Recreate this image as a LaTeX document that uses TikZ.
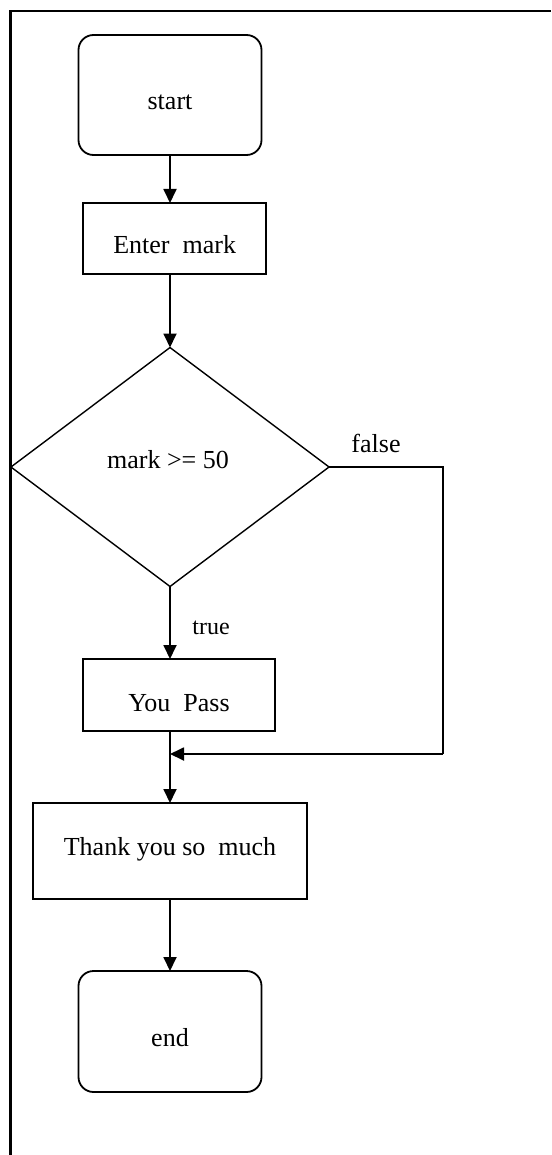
\documentclass[tikz,border=0pt]{standalone}
\usepackage{fontspec}
\setmainfont{Liberation Serif}
\usetikzlibrary{arrows.meta,shapes.geometric}
\begin{document}
\begin{tikzpicture}[x=1pt,y=-1pt,
  box/.style={draw,line width=1.8pt,inner sep=0pt,outer sep=0pt},
  term/.style={box,rounded corners=15pt},
  txt/.style={anchor=base,inner sep=0pt,font=\fontsize{26}{30}\selectfont},
  stxt/.style={anchor=base,inner sep=0pt,font=\fontsize{24}{28}\selectfont},
  flow/.style={line width=1.8pt,-{Triangle[length=14pt,width=13pt]}},
  plain/.style={line width=1.8pt}]
\useasboundingbox (0,0) rectangle (551,1155);
% frame
\draw[line width=2.4pt] (10.5,1155) -- (10.5,11) -- (551,11);
% nodes
\node[term,minimum width=183pt,minimum height=120pt] (start) at (170,95) {};
\node[txt] (tstart) at (170,110) {start};
\node[box,minimum width=183pt,minimum height=71pt] (enter) at (174.5,238.5) {};
\node[txt] (tenter) at (174.7,254) {Enter\ \ mark};
\node[draw,line width=1.4pt,diamond,inner sep=0pt,outer sep=0pt,minimum width=318pt,minimum height=239pt] (dia) at (170,467) {};
\node[txt] (tdia) at (168,468) {mark >= 50};
\node[box,minimum width=192pt,minimum height=72pt] (pass) at (179,695) {};
\node[txt] (tpass) at (179,711) {You\ \ Pass};
\node[box,minimum width=274pt,minimum height=96pt] (thank) at (170,851) {};
\node[txt] (tthank) at (170,855) {Thank you so\ \ much};
\node[term,minimum width=183pt,minimum height=121pt] (end) at (170,1031.5) {};
\node[txt] (tend) at (170,1046) {end};
\node[txt] (tfalse) at (376,452) {false};
\node[stxt] (ttrue) at (211,634) {true};
\coordinate (fr) at (443,467);
\coordinate (merge) at (170,754);
% connectors
\draw[flow] (start.south) -- (start.south |- enter.north);
\draw[flow] (dia.north |- enter.south) -- (dia.north);
\draw[flow] (dia.south) -- (dia.south |- pass.north);
\draw[plain] (dia.east) -- (fr) -- (fr |- merge);
\draw[flow] (fr |- merge) -- (merge);
\draw[flow] (merge |- pass.south) -- (thank.north);
\draw[flow] (thank.south) -- (end.north);
\end{tikzpicture}
\end{document}
